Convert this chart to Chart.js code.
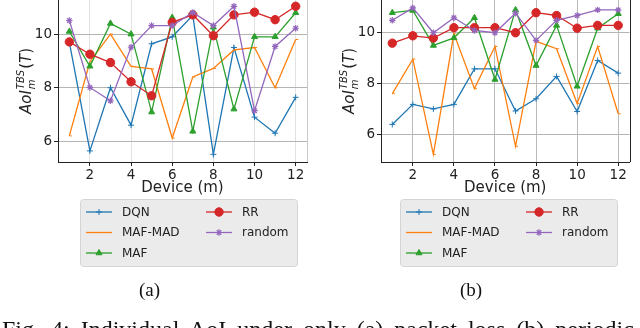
<!DOCTYPE html>
<html>
<head>
<meta charset="utf-8">
<script src="https://cdn.jsdelivr.net/npm/chart.js"></script>
<style>
  body { margin: 0; background: #fff; width: 640px; height: 328px; overflow: hidden; position: relative; }
  .panel { position: absolute; top: 0; width: 320px; height: 328px; }
  .sub { position: absolute; top: 279px; font: 19px "Liberation Serif", serif; color: #111; }
  .cap { position: absolute; left: 2px; top: 317px; white-space: nowrap; font: 24px/24px "Liberation Serif", serif; word-spacing: 5px; color: #111; }
</style>
</head>
<body>
<div class="panel" style="left:0"><canvas id="chartA" width="320" height="328"></canvas></div>
<div class="panel" style="left:320px"><canvas id="chartB" width="320" height="328"></canvas></div>
<div class="sub" style="left:139px">(a)</div>
<div class="sub" style="left:460px">(b)</div>
<div class="cap">Fig. 4: Individual AoI under only (a) packet loss (b) periodic</div>

<script>
// data
const devices = [1, 2, 3, 4, 5, 6, 7, 8, 9, 10, 11, 12];
const names = ['DQN', 'MAF-MAD', 'MAF', 'RR', 'random'];
const xTicks = [2, 4, 6, 8, 10, 12];
const yTicks = [6, 8, 10];

// (a) packet loss only
const dqnA   = [9.7, 5.64, 8.0, 6.6, 9.64, 9.9, 10.7, 5.51, 9.5, 6.9, 6.3, 7.64];
const madA   = [6.2, 8.97, 10.0, 8.8, 8.7, 6.12, 8.4, 8.72, 9.41, 9.5, 8.0, 9.8];
const mafA   = [10.1, 8.8, 10.4, 10.0, 7.09, 10.62, 6.37, 10.26, 7.2, 9.9, 9.9, 10.8];
const rrA    = [9.71, 9.25, 8.94, 8.22, 7.7, 10.44, 10.72, 9.94, 10.72, 10.82, 10.54, 11.04];
const rndA   = [10.51, 8.01, 7.51, 9.51, 10.32, 10.32, 10.81, 10.32, 11.04, 7.14, 9.54, 10.22];

// (b) periodic
const dqnB   = [6.39, 7.18, 7.0, 7.18, 8.58, 8.58, 6.92, 7.4, 8.28, 6.9, 8.91, 8.41];
const madB   = [7.6, 8.96, 5.21, 9.96, 7.8, 9.46, 5.53, 9.66, 9.37, 7.21, 9.46, 6.81];
const mafB   = [10.79, 10.88, 9.5, 9.8, 10.59, 8.16, 10.9, 8.71, 10.29, 7.89, 10.18, 10.75];
const rrB    = [9.59, 9.88, 9.79, 10.2, 10.2, 10.2, 10.0, 10.79, 10.68, 10.18, 10.29, 10.29];
const rndB   = [10.49, 10.98, 10.0, 10.59, 10.09, 10.0, 10.77, 9.7, 10.49, 10.68, 10.9, 10.9];

// styles
const colors = ['#1f77b4', '#ff7f0e', '#2ca02c', '#d62728', '#9467bd'];
const marks = [
  { style: 'cross', r: 3, bw: 1 },
  { style: 'dash', r: 2.5, bw: 1 },
  { style: 'triangle', r: 3.5, bw: 1 },
  { style: 'circle', r: 4.2, bw: 1 },
  { style: 'star', r: 3.2, bw: 1.2 }
];

Chart.defaults.font.family = '"DejaVu Sans", sans-serif';
Chart.defaults.color = '#222';

function makeSets(series) {
  return series.map((vals, i) => ({
    label: names[i],
    data: devices.map((d, j) => ({ x: d, y: vals[j] })),
    borderColor: colors[i],
    backgroundColor: colors[i],
    borderWidth: 1.3,
    pointStyle: marks[i].style,
    pointRadius: marks[i].r,
    pointBorderWidth: marks[i].bw,
    tension: 0,
    order: 4 - i
  }));
}

// y label with sub/superscript, drawn rotated
const yTitle = {
  id: 'yTitle',
  afterDraw(chart) {
    const ctx = chart.ctx, a = chart.chartArea;
    const big = 'italic 15px "DejaVu Sans"', up = '15px "DejaVu Sans"', sm = 'italic 10px "DejaVu Sans"';
    ctx.save();
    ctx.translate(a.left - 27, (a.top + a.bottom) / 2);
    ctx.rotate(-Math.PI / 2);
    ctx.fillStyle = '#222';
    ctx.textBaseline = 'alphabetic';
    ctx.font = big; const w1 = ctx.measureText('AoI').width, wT = ctx.measureText('T').width;
    ctx.font = sm; const w2 = Math.max(ctx.measureText('m').width, ctx.measureText('TBS').width);
    ctx.font = up; const wp = ctx.measureText('(').width;
    let x = -(w1 + w2 + 2 * wp + wT + 2) / 2;
    ctx.font = big; ctx.fillText('AoI', x, 0); x += w1 + 1;
    ctx.font = sm; ctx.fillText('m', x, 4); ctx.fillText('TBS', x, -7); x += w2 + 1;
    ctx.font = up; ctx.fillText('(', x, 0); x += wp;
    ctx.font = big; ctx.fillText('T', x, 0); x += wT;
    ctx.font = up; ctx.fillText(')', x, 0);
    ctx.restore();
  }
};

// right spine
const rightSpine = {
  id: 'rightSpine',
  afterDraw(chart, args, opts) {
    const ctx = chart.ctx, a = chart.chartArea;
    ctx.save();
    ctx.strokeStyle = opts.color;
    ctx.lineWidth = 1;
    ctx.beginPath();
    ctx.moveTo(Math.round(a.right) + 0.5, a.top);
    ctx.lineTo(Math.round(a.right) + 0.5, a.bottom);
    ctx.stroke();
    ctx.restore();
  }
};

// boxed two-column legend under the axis
const boxLegend = {
  id: 'boxLegend',
  afterDraw(chart, args, o) {
    const ctx = chart.ctx;
    ctx.save();
    ctx.fillStyle = '#ebebeb';
    ctx.strokeStyle = '#d4d4d4';
    ctx.lineWidth = 1;
    ctx.beginPath();
    ctx.roundRect(o.x + 0.5, o.y + 0.5, o.w, o.h, 3);
    ctx.fill(); ctx.stroke();
    ctx.font = '12px "DejaVu Sans"';
    ctx.textBaseline = 'middle';
    chart.data.datasets.forEach((ds, i) => {
      const col = Math.floor(i / 3), row = i % 3;
      const lx = o.x + [6, 126][col], ly = o.y + [13, 33.5, 54][row];
      ctx.strokeStyle = ds.borderColor;
      ctx.lineWidth = 1.3;
      ctx.beginPath(); ctx.moveTo(lx, ly); ctx.lineTo(lx + 26, ly); ctx.stroke();
      if (Chart.helpers && Chart.helpers.drawPoint) {
        ctx.fillStyle = ds.backgroundColor;
        ctx.lineWidth = ds.pointBorderWidth;
        Chart.helpers.drawPoint(ctx, { pointStyle: ds.pointStyle, radius: ds.pointRadius, borderWidth: ds.pointBorderWidth }, lx + 13, ly);
      }
      ctx.fillStyle = '#222';
      ctx.fillText(ds.label, lx + 36, ly + 0.5);
    });
    ctx.restore();
  }
};

function makeChart(id, series, yMin, yMax, yWidth, padRight, vGrid, spine) {
  return new Chart(document.getElementById(id), {
    type: 'line',
    data: { datasets: makeSets(series) },
    options: {
      responsive: false,
      animation: false,
      devicePixelRatio: 1,
      layout: { autoPadding: false, padding: { left: 0, right: padRight, top: 0, bottom: 131 } },
      plugins: {
        legend: { display: false },
        tooltip: { enabled: false },
        rightSpine: { color: spine },
        boxLegend: { x: 80, y: 199, w: 217, h: 67 }
      },
      scales: {
        x: {
          type: 'linear', min: 0.45, max: 12.55,
          afterBuildTicks: s => { s.ticks = xTicks.map(v => ({ value: v })); },
          afterFit: s => { s.height = 35; s.paddingLeft = 0; s.paddingRight = 0; },
          grid: { color: vGrid, tickColor: '#222', tickLength: 4 },
          border: { color: '#222', width: 1 },
          ticks: { font: { size: 13.5 }, padding: 1, color: '#222' },
          title: { display: true, text: 'Device (m)', font: { size: 15 }, padding: 0, color: '#222' }
        },
        y: {
          min: yMin, max: yMax,
          afterBuildTicks: s => { s.ticks = yTicks.map(v => ({ value: v })); },
          afterFit: s => { s.width = yWidth; s.paddingTop = 0; s.paddingBottom = 0; },
          grid: { color: '#b4b4b4', tickColor: '#222', tickLength: 4 },
          border: { color: '#222', width: 1 },
          ticks: { font: { size: 13.5 }, padding: 2, color: '#222' }
        }
      }
    },
    plugins: [yTitle, rightSpine, boxLegend]
  });
}

makeChart('chartA', [dqnA, madA, mafA, rrA, rndA], 5.225, 11.275, 58, 13, '#e2e2e2', '#c8c8c8');
makeChart('chartB', [dqnB, madB, mafB, rrB, rndB], 4.91, 11.29, 61, 10.5, '#bcbcbc', '#222');
</script>
</body>
</html>
